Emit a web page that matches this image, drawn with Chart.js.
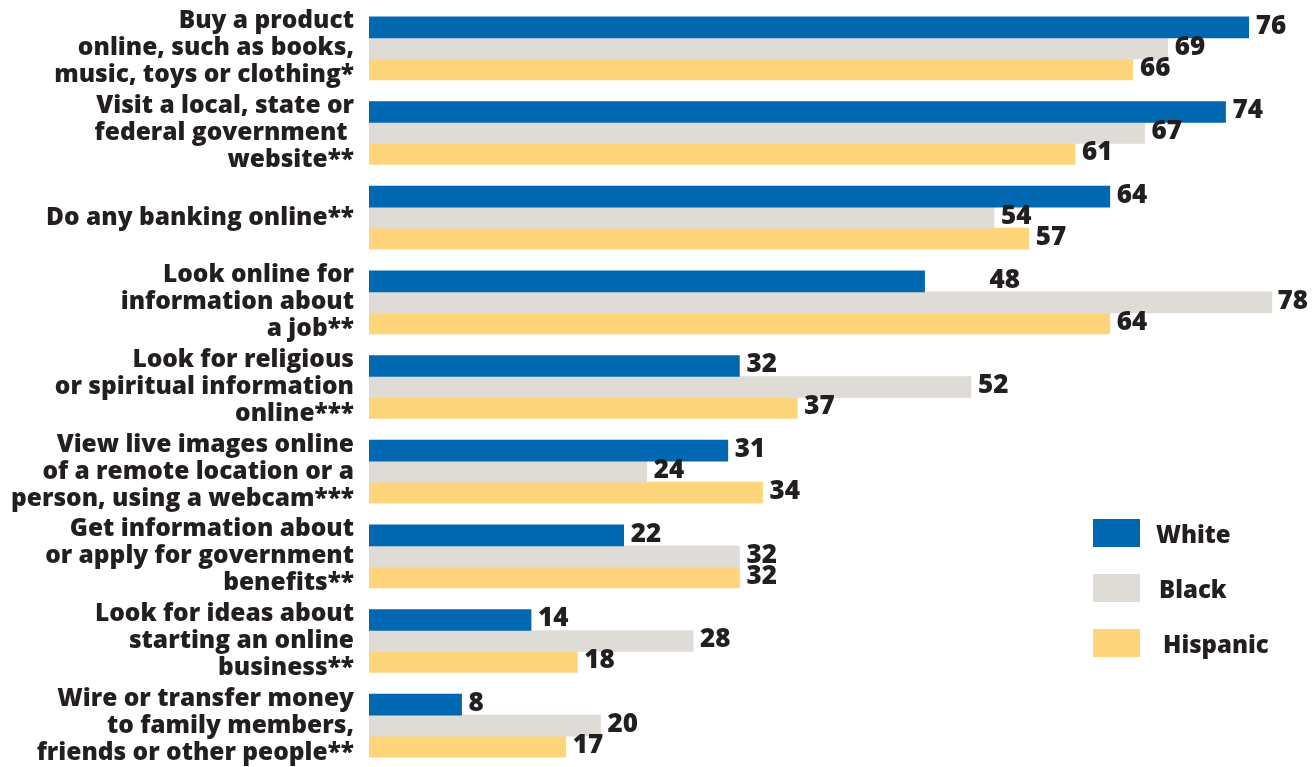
<!DOCTYPE html>
<html>
<head>
<meta charset="utf-8">
<script src="https://cdn.jsdelivr.net/npm/chart.js@4/dist/chart.umd.min.js"></script>
<style>
    html, body { margin: 0; padding: 0; background: #fff; overflow: hidden; }
    #wrap { position: absolute; left: 0; top: 0; width: 1314px; height: 768px; }
</style>
</head>
<body>
<div id="wrap"><canvas id="chart"></canvas></div>
<script>
const categories = [
    ['Buy a product', 'online, such as books,', 'music, toys or clothing*'],
    ['Visit a local, state or', 'federal government ', 'website**'],
    ['Do any banking online**'],
    ['Look online for', 'information about', 'a job**'],
    ['Look for religious', 'or spiritual information', 'online***'],
    ['View live images online', 'of a remote location or a', 'person, using a webcam***'],
    ['Get information about', 'or apply for government', 'benefits**'],
    ['Look for ideas about', 'starting an online', 'business**'],
    ['Wire or transfer money', 'to family members,', 'friends or other people**']
];
const seriesNames = ['White', 'Black', 'Hispanic'];
const whiteValues = [76, 74, 64, 48, 32, 31, 22, 14, 8];
const blackValues = [69, 67, 54, 78, 52, 24, 32, 28, 20];
const hispanicValues = [66, 61, 57, 64, 37, 34, 32, 18, 17];

const colors = ['#0067b1', '#dfdbd6', '#fed57a'];
const textColor = '#231f20';
const fontFamily = '"Open Sans", Lato, sans-serif';

// value label drawn just past the end of each bar
const barLabels = {
    id: 'barLabels',
    afterDatasetsDraw(chart) {
        const ctx = chart.ctx;
        ctx.save();
        ctx.font = '800 26px ' + fontFamily;
        ctx.fillStyle = textColor;
        ctx.textBaseline = 'middle';
        ctx.textAlign = 'left';
        chart.data.datasets.forEach((ds, di) => {
            chart.getDatasetMeta(di).data.forEach((bar, i) => {
                const txt = String(ds.data[i]);
                let x = bar.x + 7;
                if (di === 0 && i === 3) x += 58; // the 48 sits away from its bar
                const w = ctx.measureText(txt).width;
                if (x + w > chart.width - 6) x = chart.width - 6 - w;
                ctx.fillText(txt, x, bar.y - 1);
            });
        });
        ctx.restore();
    }
};

// legend in the lower right
const sideLegend = {
    id: 'sideLegend',
    afterDraw(chart) {
        const ctx = chart.ctx;
        ctx.save();
        ctx.font = '800 24px ' + fontFamily;
        ctx.textBaseline = 'middle';
        const textX = [1156, 1159, 1163];
        chart.data.datasets.forEach((ds, i) => {
            const y = 519 + i * 55;
            ctx.fillStyle = ds.backgroundColor;
            ctx.fillRect(1093, y, 47, 28);
            ctx.fillStyle = textColor;
            ctx.fillText(ds.label, textX[i], y + 17);
        });
        ctx.restore();
    }
};

new Chart(document.getElementById('chart'), {
    type: 'bar',
    data: {
        labels: categories,
        datasets: [whiteValues, blackValues, hispanicValues].map((vals, i) => ({
            label: seriesNames[i],
            data: vals,
            backgroundColor: colors[i],
            borderWidth: 0,
            barThickness: 21,
            categoryPercentage: 0.8
        }))
    },
    options: {
        indexAxis: 'y',
        responsive: true,
        maintainAspectRatio: false,
        animation: false,
        layout: { padding: { top: 6, right: 19, bottom: 0, left: 0 } },
        plugins: {
            legend: { display: false },
            tooltip: { enabled: false }
        },
        scales: {
            x: {
                min: 0,
                max: 80,
                display: false
            },
            y: {
                grid: { display: false, drawTicks: false },
                border: { display: false },
                ticks: {
                    color: textColor,
                    padding: 15,
                    autoSkip: false,
                    font: { family: fontFamily, size: 24.5, weight: '800', lineHeight: 1.1 }
                },
                afterFit(scale) {
                    scale.width = 369;
                    scale.paddingTop = 0;
                    scale.paddingBottom = 0;
                }
            }
        }
    },
    plugins: [barLabels, sideLegend]
});
</script>
</body>
</html>
